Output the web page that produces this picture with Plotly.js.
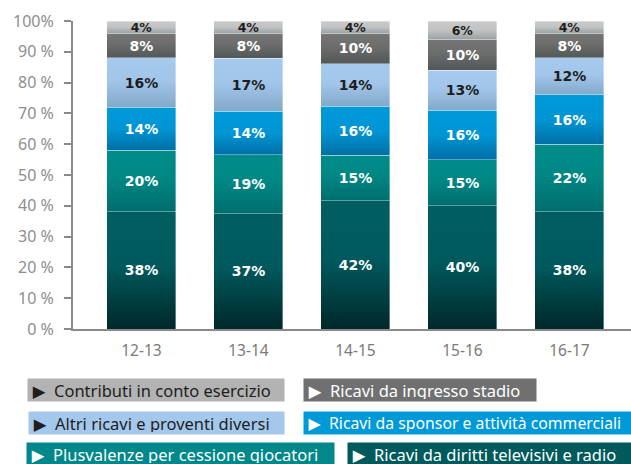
<!DOCTYPE html>
<html>
<head>
<meta charset="utf-8">
<script src="https://cdn.plot.ly/plotly-3.0.1.min.js"></script>
<style>html,body{margin:0;padding:0;background:#fff;}#chart{width:631px;height:464px;}</style>
</head>
<body>
<div id="chart"></div>
<script>
// Data
const seasons = ['12-13', '13-14', '14-15', '15-16', '16-17'];
const dirittiTv = [38, 37, 42, 40, 38];
const plusvalenze = [20, 19, 15, 15, 22];
const sponsor = [14, 14, 16, 16, 16];
const altriRicavi = [16, 17, 14, 13, 12];
const stadio = [8, 8, 10, 10, 8];
const contributi = [4, 4, 4, 6, 4];
const seriesNames = [
  'Ricavi da diritti televisivi e radio',
  'Plusvalenze per cessione giocatori',
  'Ricavi da sponsor e attività commerciali',
  'Altri ricavi e proventi diversi',
  'Ricavi da ingresso stadio',
  'Contributi in conto esercizio'
];
const yTickVals = [0, 10, 20, 30, 40, 50, 60, 70, 80, 90, 100];
const yTickText = ['0 %', '10 %', '20 %', '30 %', '40 %', '50 %', '60 %', '70 %', '80 %', '90 %', '100%'];

const seriesValues = [dirittiTv, plusvalenze, sponsor, altriRicavi, stadio, contributi];
const baseColors = ['#005a5d', '#008785', '#0096d6', '#a4c8ec', '#6e6e6e', '#c4c4c4'];
const textColors = ['#ffffff', '#ffffff', '#ffffff', '#1e1e1e', '#ffffff', '#1e1e1e'];
const textSizes = [14, 14, 14, 14, 14, 12.5];
const gradients = [
  [['0', '#005e61'], ['0.45', '#005a5d'], ['1', '#00282a']],
  [['0', '#008c8a'], ['0.45', '#008784'], ['1', '#006d6d']],
  [['0', '#009ad9'], ['0.5', '#0095d4'], ['1', '#006fa6']],
  [['0', '#a6caee'], ['0.45', '#a2c6ea'], ['1', '#82a9c9']],
  [['0', '#757575'], ['0.4', '#6e6e6e'], ['1', '#525757']],
  [['0', '#cacaca'], ['0.5', '#c2c2c2'], ['1', '#97a2a4']]
];

const font = 'Noto Sans, DejaVu Sans, sans-serif';
const boldFont = 'DejaVu Sans, Noto Sans, sans-serif';
const legendFont = 'Noto Sans, DejaVu Sans, sans-serif';

const traces = seriesValues.map((vals, i) => ({
  type: 'bar',
  name: seriesNames[i],
  x: seasons,
  y: vals,
  text: vals.map(v => v + '%'),
  textposition: 'inside',
  insidetextanchor: 'middle',
  textangle: 0,
  constraintext: 'none',
  insidetextfont: {family: boldFont, size: textSizes[i], color: textColors[i], weight: 700},
  marker: {color: baseColors[i], line: {width: 0.8, color: 'rgba(255,255,255,0.45)'}},
  hoverinfo: 'name+y'
}));

// Legend boxes (as annotations)
const legendItems = [
  {name: seriesNames[5], bg: '#b3b3b3', fg: '#1e1e1e', x0: 27, w: 256, row: 0, size: 16.5},
  {name: seriesNames[4], bg: '#707070', fg: '#ffffff', x0: 303, w: 232, row: 0, size: 16.5},
  {name: seriesNames[3], bg: '#a4c8ec', fg: '#1e1e1e', x0: 28, w: 255, row: 1, size: 16.5},
  {name: seriesNames[2], bg: '#0099d8', fg: '#ffffff', x0: 303, w: 360, row: 1, size: 15.8},
  {name: seriesNames[1], bg: '#00878a', fg: '#ffffff', x0: 26, w: 307, row: 2, size: 16.5},
  {name: seriesNames[0], bg: '#005a5c', fg: '#ffffff', x0: 347, w: 320, row: 2, size: 16.5}
];
const rowCenters = [390, 423, 454];
const plotL = 73, plotW = 558, plotT = 21, plotH = 308;

const annotations = legendItems.map(it => ({
  xref: 'paper', yref: 'paper',
  x: (it.x0 - plotL) / plotW,
  y: (plotT + plotH - rowCenters[it.row]) / plotH,
  xanchor: 'left', yanchor: 'middle',
  text: '\u2009\u25B6\u00a0\u00a0' + it.name,
  showarrow: false,
  align: 'left',
  width: it.w - 4,
  height: 18,
  borderpad: 2,
  bgcolor: it.bg,
  font: {family: legendFont, size: it.size, color: it.fg}
}));

const layout = {
  width: 631, height: 464,
  margin: {l: plotL, r: 0, t: plotT, b: 464 - plotT - plotH, pad: 0},
  paper_bgcolor: '#ffffff', plot_bgcolor: '#ffffff',
  barmode: 'stack',
  barnorm: 'percent',
  bargap: 0.355,
  showlegend: false,
  xaxis: {
    type: 'category',
    range: [-0.64, 4.575],
    showline: true, linecolor: '#8a8a8a', linewidth: 2,
    ticks: '', showgrid: false, zeroline: false,
    tickfont: {family: font, size: 15.5, color: '#7a7a7a'},
    ticklabelstandoff: 6
  },
  yaxis: {
    range: [0, 100],
    tickvals: yTickVals, ticktext: yTickText,
    showline: true, linecolor: '#8a8a8a', linewidth: 2,
    ticks: 'outside', ticklen: 7, tickwidth: 2, tickcolor: '#8a8a8a',
    showgrid: false, zeroline: false,
    tickfont: {family: font, size: 16, color: '#8e8e8e'},
    ticklabelstandoff: 7
  },
  annotations: annotations
};

Plotly.newPlot('chart', traces, layout, {displayModeBar: false, staticPlot: true}).then(gd => {
  const svgNS = 'http://www.w3.org/2000/svg';
  const svg = gd.querySelector('svg.main-svg');
  let defs = svg.querySelector('defs');
  if (!defs) { defs = document.createElementNS(svgNS, 'defs'); svg.insertBefore(defs, svg.firstChild); }
  gradients.forEach((stops, i) => {
    const lg = document.createElementNS(svgNS, 'linearGradient');
    lg.setAttribute('id', 'bargrad' + i);
    lg.setAttribute('x1', '0'); lg.setAttribute('y1', '0');
    lg.setAttribute('x2', '0'); lg.setAttribute('y2', '1');
    stops.forEach(s => {
      const st = document.createElementNS(svgNS, 'stop');
      st.setAttribute('offset', s[0]);
      st.setAttribute('stop-color', s[1]);
      lg.appendChild(st);
    });
    defs.appendChild(lg);
  });
  const traceGroups = gd.querySelectorAll('.barlayer .trace');
  traceGroups.forEach((g, i) => {
    g.querySelectorAll('.point path').forEach(p => { p.style.fill = 'url(#bargrad' + i + ')'; });
  });
});
</script>
</body>
</html>
